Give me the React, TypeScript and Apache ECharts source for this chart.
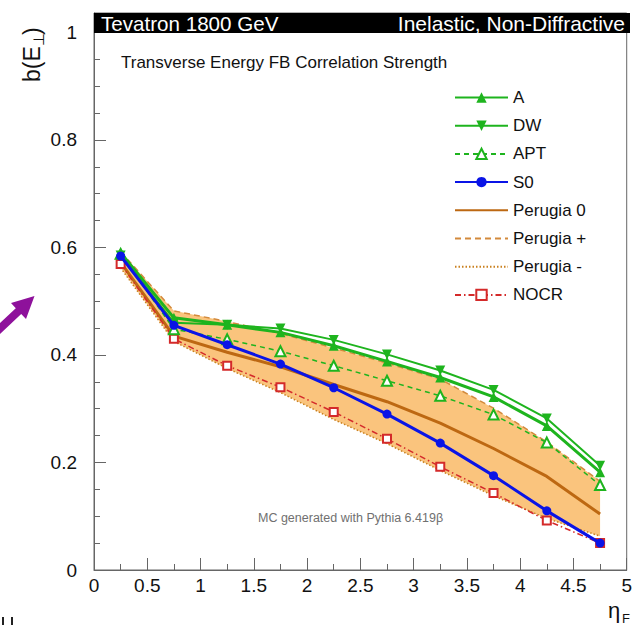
import React, { useEffect, useRef } from "react";
import * as echarts from "echarts";

const ETA = [0.25, 0.75, 1.25, 1.75, 2.25, 2.75, 3.25, 3.75, 4.25, 4.75];
const A = [0.59, 0.469, 0.456, 0.442, 0.417, 0.388, 0.358, 0.322, 0.268, 0.182];
const DW = [0.585, 0.46, 0.456, 0.449, 0.428, 0.401, 0.371, 0.335, 0.282, 0.194];
const APT = [0.588, 0.448, 0.429, 0.407, 0.38, 0.352, 0.324, 0.289, 0.237, 0.158];
const S0 = [0.584, 0.455, 0.419, 0.383, 0.339, 0.29, 0.236, 0.1755, 0.11, 0.05];
const PERUGIA_0 = [0.572, 0.435, 0.405, 0.378, 0.345, 0.313, 0.273, 0.226, 0.174, 0.104];
const PERUGIA_PLUS = [0.592, 0.482, 0.462, 0.44, 0.413, 0.385, 0.355, 0.301, 0.238, 0.165];
const PERUGIA_MINUS = [0.562, 0.425, 0.375, 0.33, 0.28, 0.235, 0.185, 0.138, 0.096, 0.063];
const NOCR = [0.569, 0.43, 0.38, 0.34, 0.294, 0.244, 0.192, 0.143, 0.092, 0.05];

const LEGEND = ["A", "DW", "APT", "S0", "Perugia 0", "Perugia +", "Perugia -", "NOCR"];
const NO_SYMBOL_LEGEND = ["Perugia 0", "Perugia +", "Perugia -"];
const X_TICKS = { min: 0, max: 5, interval: 0.5 };
const Y_TICKS = { min: 0, max: 1.036, interval: 0.2 };

const FONT = "'Liberation Sans', Arial, Helvetica, sans-serif";
const GREEN = "#1eb41e";
const BLUE = "#0a14e6";
const BROWN = "#bd6812";
const ORANGE_LINE = "#d38a3c";
const FILL = "#fac47d";
const RED = "#d42a2a";

const pairs = (ys: number[]) => ETA.map((x, i) => [x, ys[i]]);

export default function App() {
  const ref = useRef<HTMLDivElement>(null);
  useEffect(() => {
    if (!ref.current) return;
    const chart = echarts.init(ref.current, null, { renderer: "svg" });
    const arrowPts = [
      [34.5, 296],
      [26.0, 319.1],
      [21.2, 314.0],
      [-7.9, 341.4],
      [-13.3, 335.6],
      [15.8, 308.2],
      [11.0, 303.1],
    ];
    const bandData = ETA.map((x, i) => [x, PERUGIA_MINUS[i], PERUGIA_PLUS[i]]);
    chart.setOption({
      animation: false,
      backgroundColor: "#ffffff",
      grid: {
        left: 94,
        right: 5,
        top: 13,
        bottom: 55,
        show: true,
        borderColor: "#666",
        borderWidth: 1,
      },
      xAxis: {
        type: "value",
        min: X_TICKS.min,
        max: X_TICKS.max,
        interval: X_TICKS.interval,
        axisLine: { show: true, lineStyle: { color: "#666", width: 1 } },
        axisTick: { show: true, inside: true, length: 12, lineStyle: { color: "#666" } },
        minorTick: { show: true, splitNumber: 2, length: 6, lineStyle: { color: "#666" } },
        splitLine: { show: false },
        axisLabel: { fontSize: 19, color: "#111", fontFamily: FONT, margin: 6 },
      },
      yAxis: {
        type: "value",
        min: Y_TICKS.min,
        max: Y_TICKS.max,
        interval: Y_TICKS.interval,
        axisLine: { show: true, lineStyle: { color: "#666", width: 1 } },
        axisTick: { show: true, inside: true, length: 12, lineStyle: { color: "#666" } },
        minorTick: { show: true, splitNumber: 4, length: 6, lineStyle: { color: "#666" } },
        splitLine: { show: false },
        axisLabel: { fontSize: 19, color: "#111", fontFamily: FONT, margin: 17, showMaxLabel: false },
      },
      legend: {
        data: LEGEND.map((name) =>
          NO_SYMBOL_LEGEND.includes(name) ? { name, itemStyle: { opacity: 0 } } : { name }
        ),
        orient: "vertical",
        left: 454,
        top: 89,
        padding: 0,
        itemWidth: 53,
        itemHeight: 13,
        itemGap: 11.2,
        textStyle: { fontSize: 17, color: "#111", fontFamily: FONT },
      },
      series: [
        {
          name: "band",
          type: "custom",
          data: bandData,
          encode: { x: 0, y: [1, 2] },
          silent: true,
          z: 1,
          renderItem: (params: any, api: any) => {
            if (params.dataIndex !== 0) return null;
            const upper = bandData.map((d) => api.coord([d[0], d[2]]));
            const lower = bandData.map((d) => api.coord([d[0], d[1]])).reverse();
            return {
              type: "polygon",
              shape: { points: upper.concat(lower) },
              style: { fill: FILL, stroke: "none" },
            };
          },
        },
        {
          name: "Perugia -",
          type: "line",
          data: pairs(PERUGIA_MINUS),
          symbol: "none",
          itemStyle: { color: ORANGE_LINE },
          lineStyle: { color: "#c9801f", width: 1.5, type: [1.5, 2] },
          z: 2,
        },
        {
          name: "Perugia +",
          type: "line",
          data: pairs(PERUGIA_PLUS),
          symbol: "none",
          itemStyle: { color: ORANGE_LINE },
          lineStyle: { color: ORANGE_LINE, width: 1.5, type: [6, 4] },
          z: 2,
        },
        {
          name: "Perugia 0",
          type: "line",
          data: pairs(PERUGIA_0),
          symbol: "none",
          itemStyle: { color: BROWN },
          lineStyle: { color: BROWN, width: 3 },
          z: 3,
        },
        {
          name: "NOCR",
          type: "line",
          data: pairs(NOCR),
          symbol: "emptyRect",
          symbolSize: 8,
          itemStyle: { color: RED, borderWidth: 1.2 },
          lineStyle: { color: RED, width: 1.5, type: [6, 3, 1.5, 3] },
          z: 4,
        },
        {
          name: "APT",
          type: "line",
          data: pairs(APT),
          symbol: "emptyTriangle",
          symbolSize: 10,
          itemStyle: { color: GREEN, borderWidth: 1.5 },
          lineStyle: { color: GREEN, width: 1.5, type: [5, 4] },
          z: 5,
        },
        {
          name: "DW",
          type: "line",
          data: pairs(DW),
          symbol: "triangle",
          symbolRotate: 180,
          symbolSize: 10,
          itemStyle: { color: GREEN },
          lineStyle: { color: GREEN, width: 2 },
          z: 6,
        },
        {
          name: "A",
          type: "line",
          data: pairs(A),
          symbol: "triangle",
          symbolSize: 10,
          itemStyle: { color: GREEN },
          lineStyle: { color: GREEN, width: 3 },
          z: 7,
        },
        {
          name: "S0",
          type: "line",
          data: pairs(S0),
          symbol: "circle",
          symbolSize: 9,
          itemStyle: { color: BLUE },
          lineStyle: { color: BLUE, width: 3 },
          z: 8,
        },
      ],
      graphic: [
        {
          type: "rect",
          shape: { x: 94, y: 13, width: 536, height: 20 },
          style: { fill: "#000" },
          z: 100,
        },
        {
          type: "text",
          x: 101,
          y: 23,
          style: {
            text: "Tevatron 1800 GeV",
            fill: "#fff",
            font: `20.6px ${FONT}`,
            textAlign: "left",
            textVerticalAlign: "middle",
          },
          z: 101,
        },
        {
          type: "text",
          x: 625,
          y: 23,
          style: {
            text: "Inelastic, Non-Diffractive",
            fill: "#fff",
            font: `21px ${FONT}`,
            textAlign: "right",
            textVerticalAlign: "middle",
          },
          z: 101,
        },
        {
          type: "text",
          x: 121,
          y: 62,
          style: {
            text: "Transverse Energy FB Correlation Strength",
            fill: "#111",
            font: `17px ${FONT}`,
            textAlign: "left",
            textVerticalAlign: "middle",
          },
          z: 101,
        },
        {
          type: "text",
          x: 258,
          y: 518,
          style: {
            text: "MC generated with Pythia 6.419β",
            fill: "#707070",
            font: `12.5px ${FONT}`,
            textAlign: "left",
            textVerticalAlign: "middle",
          },
          z: 101,
        },
        {
          type: "group",
          x: 32,
          y: 82,
          rotation: Math.PI / 2,
          children: [
            {
              type: "text",
              x: 0,
              y: 0,
              style: { text: "b(E", fill: "#111", font: `23px ${FONT}`, textAlign: "left", textVerticalAlign: "middle" },
            },
            {
              type: "text",
              x: 36,
              y: 6,
              style: { text: "⊥", fill: "#111", font: `15px ${FONT}`, textAlign: "left", textVerticalAlign: "middle" },
            },
            {
              type: "text",
              x: 47,
              y: 0,
              style: { text: ")", fill: "#111", font: `23px ${FONT}`, textAlign: "left", textVerticalAlign: "middle" },
            },
          ],
        },
        {
          type: "text",
          x: 608,
          y: 610,
          style: { text: "η", fill: "#111", font: `22px ${FONT}`, textAlign: "left", textVerticalAlign: "middle" },
        },
        {
          type: "text",
          x: 622,
          y: 618,
          style: { text: "F", fill: "#111", font: `13px ${FONT}`, textAlign: "left", textVerticalAlign: "middle" },
        },
        {
          type: "polygon",
          shape: { points: arrowPts },
          style: { fill: "#8e119b" },
        },
        { type: "rect", shape: { x: 2, y: 617, width: 2, height: 8 }, style: { fill: "#222" } },
        { type: "rect", shape: { x: 11, y: 617, width: 2, height: 8 }, style: { fill: "#222" } },
      ],
    });
    return () => chart.dispose();
  }, []);
  return <div ref={ref} style={{ width: 635, height: 625, position: "absolute", left: 0, top: 0 }} />;
}
